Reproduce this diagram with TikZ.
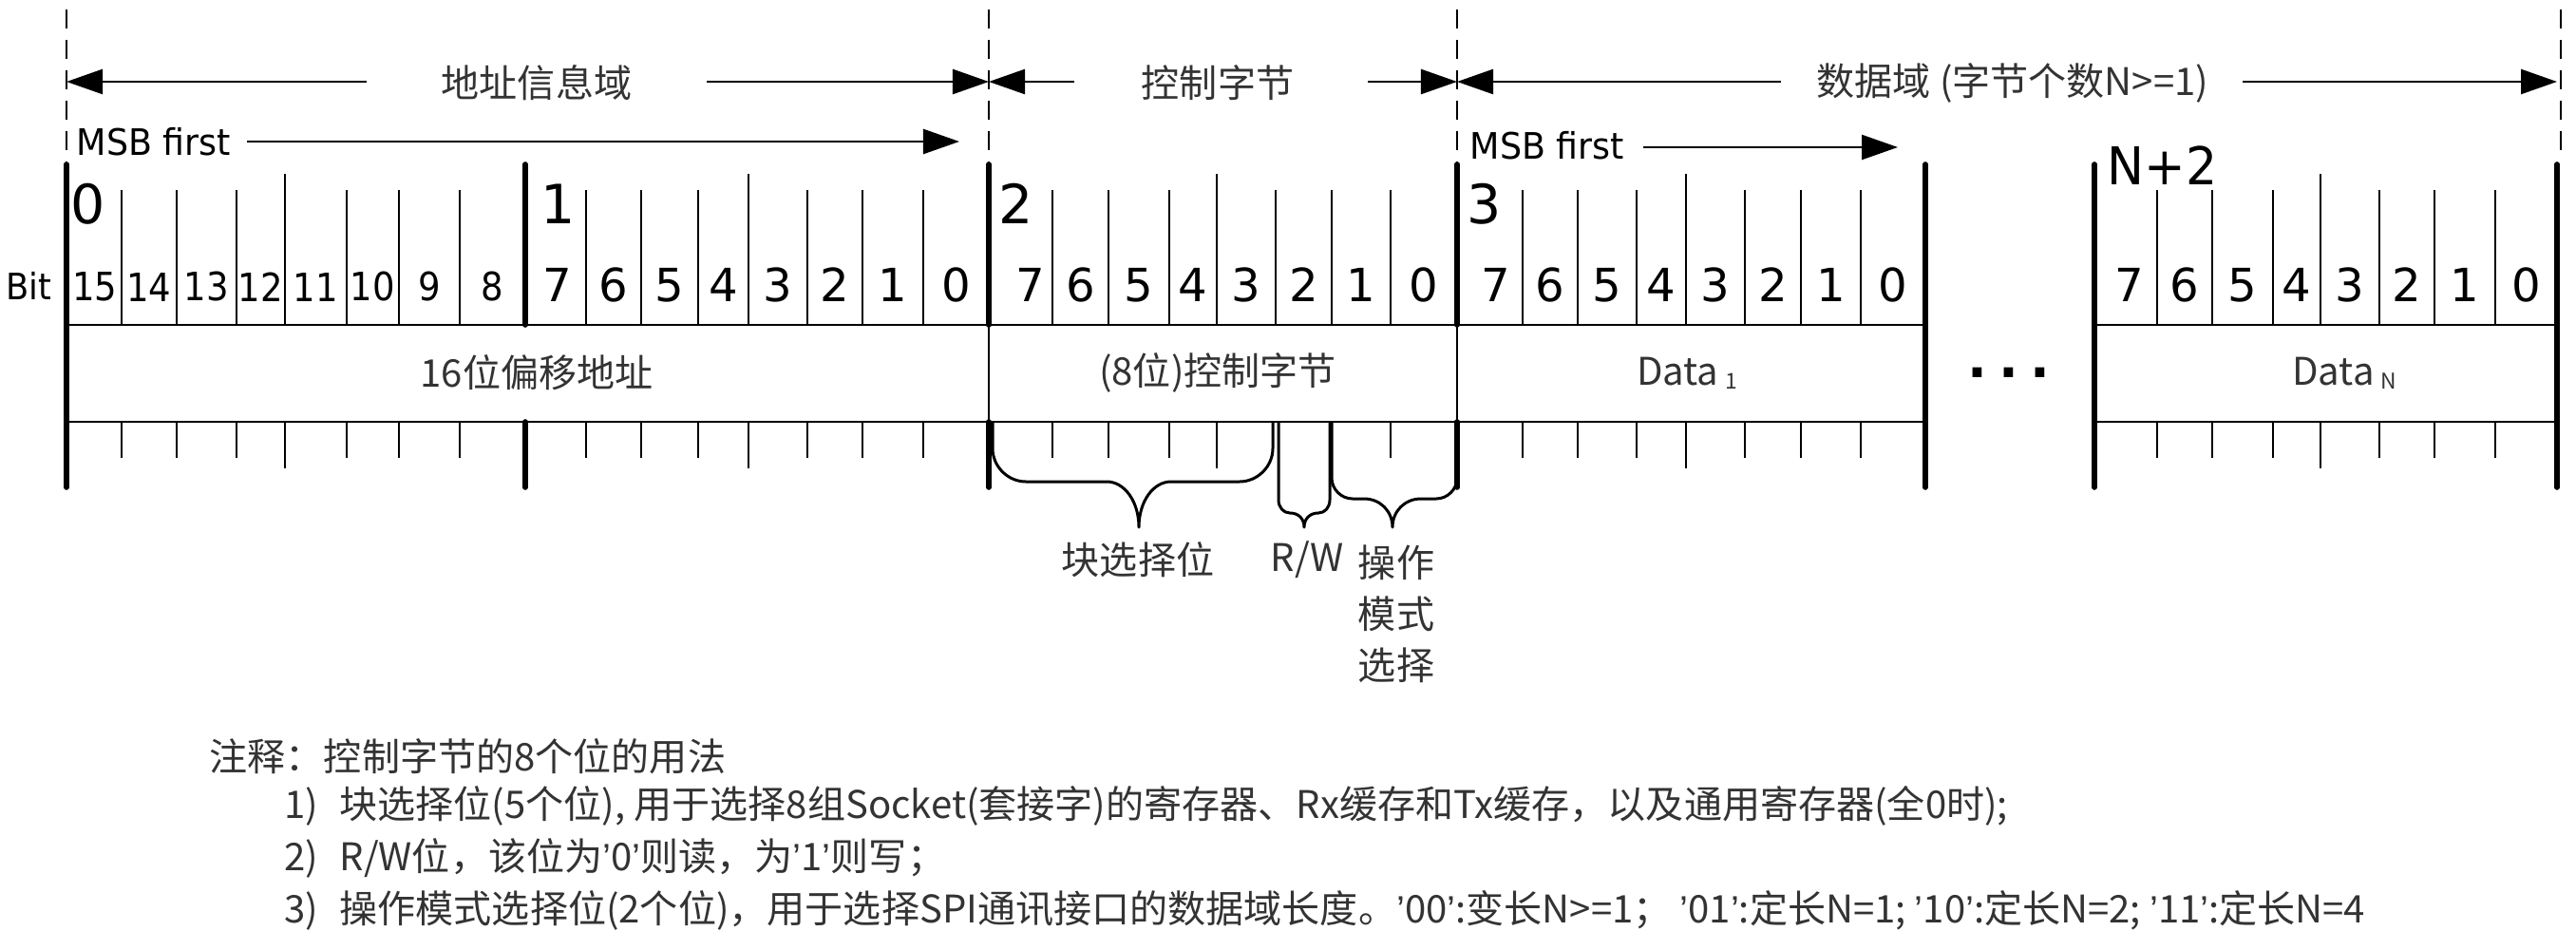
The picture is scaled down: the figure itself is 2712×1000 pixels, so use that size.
\documentclass[tikz,border=0pt]{standalone}
\usepackage{fontspec}
\setmainfont{Noto Sans CJK SC}
\newfontfamily\digf{DejaVu Sans}
\newfontfamily\dign[FakeStretch=0.9]{DejaVu Sans}
\newfontfamily\msbf[FakeStretch=0.95]{DejaVu Sans}
\newfontfamily\bitf[FakeStretch=0.92]{DejaVu Sans}
\newfontfamily\dejavu{DejaVu Sans}
\newfontfamily\lat{Liberation Sans}
\usetikzlibrary{arrows.meta}
\definecolor{txt}{HTML}{333333}
\newcommand\q{{\lat ’}}
\tikzset{
  lbl/.style={font=\fontsize{11.4}{13}\selectfont, text=txt, inner sep=0pt},
  bitnum/.style={font=\digf\fontsize{13.7}{14}\selectfont, inner sep=0pt},
  bitnumA/.style={font=\dign\fontsize{11.7}{12}\selectfont, inner sep=0pt},
  idx/.style={font=\digf\fontsize{16.2}{17}\selectfont, inner sep=0pt, anchor=north west},
  thin/.style={line width=0.57pt},
  thk/.style={line width=1.6pt, line cap=round},
  dim/.style={line width=0.7pt, -{Triangle[length=0.38cm,width=0.26cm]}},
  dsh/.style={line width=0.57pt, dash pattern=on 0.2cm off 0.12cm},
  brc/.style={line width=0.85pt, line join=round},
  note/.style={font=\fontsize{11.4}{13}\selectfont, text=txt, inner sep=0pt, anchor=west},
}
\begin{document}
\begin{tikzpicture}[x=0.01cm,y=-0.01cm]
\useasboundingbox (0,0) rectangle (2712,1000);

% dashed section separators
\foreach \x in {70,1041,1534} \draw[dsh] (\x,10) -- (\x,173);
\draw[dsh] (2696,10) -- (2696,170);

% section dimension arrows
\coordinate (s0) at (70,86);
\coordinate (s1) at (1041,86);
\coordinate (s2) at (1534,86);
\coordinate (s3) at (2692,86);
\coordinate (a1) at (386,86);  \coordinate (a2) at (744,86);
\coordinate (c1) at (1131,86); \coordinate (c2) at (1440,86);
\coordinate (e1) at (1875,86); \coordinate (e2) at (2361,86);
\draw[dim] (a1) -- (s0); \draw[dim] (a2) -- (s1);
\draw[dim] (c1) -- (s1); \draw[dim] (c2) -- (s2);
\draw[dim] (e1) -- (s2); \draw[dim] (e2) -- (s3);
\node[lbl] (laddr) at (565,87) {地址信息域};
\node[lbl] (lctrl) at (1282,87) {控制字节};
\node[lbl] (ldata) at (2119,87) {数据域 (字节个数N>=1)};

% MSB first
\node[font=\msbf\fontsize{10.9}{12}\selectfont, inner sep=0pt, anchor=base west] (msb1) at (80,163) {MSB first};
\node[font=\msbf\fontsize{10.9}{12}\selectfont, inner sep=0pt, anchor=base west] (msb2) at (1547,167) {MSB first};
\coordinate (m1a) at (260,149); \coordinate (m1b) at (1010,149);
\coordinate (m2a) at (1730,155); \coordinate (m2b) at (1998,155);
\draw[dim] (m1a) -- (m1b);
\draw[dim] (m2a) -- (m2b);

% byte indices
\node[idx] (i0) at (74,193) {0};
\node[idx] (i1) at (569,193) {1};
\node[idx] (i2) at (1051,193) {2};
\node[idx] (i3) at (1544,193) {3};
\node[font=\msbf\fontsize{15.6}{17}\selectfont, inner sep=0pt, anchor=north west] (iN) at (2218,153) {N+2};

% Bit label
\node[font=\bitf\fontsize{10.9}{12}\selectfont, inner sep=0pt] (bit) at (30,301) {Bit};

% horizontal box lines
\draw[thin] (70,342) -- (2027,342);
\draw[thin] (70,444) -- (2027,444);
\draw[thin] (2205,342) -- (2692,342);
\draw[thin] (2205,444) -- (2692,444);

% short ticks
\foreach \x in {128,186,249,365,420,484,617,675,735,850,908,972,1108,1167,1231,1343,1402,1464,1603,1661,1723,1837,1896,1959,2271,2329,2393,2505,2563,2627}
  \draw[thin] (\x,200) -- (\x,342);
\foreach \x in {128,186,249,365,420,484,617,675,735,850,908,972,1108,1167,1231,1464,1603,1661,1723,1837,1896,1959,2271,2329,2393,2505,2563,2627}
  \draw[thin] (\x,444) -- (\x,482);
% nibble ticks
\foreach \x in {300,788,1281,1775,2443} {
  \draw[thin] (\x,183) -- (\x,342);
  \draw[thin] (\x,444) -- (\x,493);
}
% thin separators inside box row
\draw[thin] (1041,342) -- (1041,444);
\draw[thin] (1534,342) -- (1534,444);

% thick byte boundaries
\foreach \x in {70,2027,2205,2692} \draw[thk] (\x,173) -- (\x,513);
\foreach \x in {553,1041,1534} {
  \draw[thk] (\x,173) -- (\x,342);
  \draw[thk] (\x,444) -- (\x,513);
}

% bit numbers
\foreach \a/\b/\t in {72/128/15,128/186/14,186/249/13,249/300/12,300/365/11,365/420/10,420/484/9,484/553/8}
  \node[bitnumA] (b\a) at ({(\a+\b)/2},302) {\t};
\foreach \a/\b/\t in {557/617/7,617/675/6,675/735/5,735/788/4,788/850/3,850/908/2,908/972/1,972/1041/0,
  1062/1108/7,1108/1167/6,1167/1231/5,1231/1281/4,1281/1343/3,1343/1402/2,1402/1464/1,1464/1534/0,
  1546/1603/7,1603/1661/6,1661/1723/5,1723/1775/4,1775/1837/3,1837/1896/2,1896/1959/1,1959/2027/0,
  2212/2271/7,2271/2329/6,2329/2393/5,2393/2443/4,2443/2505/3,2505/2563/2,2563/2627/1,2627/2692/0}
  \node[bitnum] (b\a) at ({(\a+\b)/2},300) {\t};

% box contents
\node[lbl] (addr) at (565,392) {16位偏移地址};
\node[lbl] (ctrl) at (1282,392) {(8位)控制字节};
\node[lbl, anchor=base] (data1) at (1776,405) {Data\,\raisebox{-0.12em}{\fontsize{6.5}{7}\selectfont 1}};
\node[lbl, anchor=base] (dataN) at (2468,405) {Data\,\raisebox{-0.12em}{\fontsize{6.5}{7}\selectfont N}};
\node[font=\dejavu\bfseries\fontsize{15.6}{16}\selectfont, inner sep=0pt, anchor=base] (dots) at (2115,397) {.\hspace{0.12cm}.\hspace{0.12cm}.};

% braces
\draw[brc] (1045,445) -- (1045,472) .. controls (1045,491) and (1061,507) .. (1080,507) -- (1165,507)
  .. controls (1184,507) and (1199,528) .. (1199,555) .. controls (1199,528) and (1214,507) .. (1233,507)
  -- (1305,507) .. controls (1324,507) and (1340,491) .. (1340,472) -- (1340,445);
\draw[brc] (1346,445) -- (1346,526) .. controls (1346,534) and (1351,540) .. (1358,540)
  .. controls (1367,540) and (1373,546) .. (1373,555) .. controls (1373,546) and (1379,540) .. (1388,540)
  .. controls (1395,540) and (1400,534) .. (1400,526) -- (1400,445);
\draw[brc] (1402,445) -- (1402,503) .. controls (1402,515) and (1412,525) .. (1424,525) -- (1436,525)
  .. controls (1453,525) and (1466,538) .. (1466,555) .. controls (1466,538) and (1479,525) .. (1496,525)
  -- (1512,525) .. controls (1524,525) and (1534,515) .. (1534,503) -- (1534,445);

\node[lbl] (kuai) at (1198,589) {块选择位};
\node[lbl] (rw) at (1376,589) {R/W};
\node[lbl, align=center, font=\fontsize{11.4}{15.4}\selectfont] (op) at (1470,646) {操作\\模式\\选择};

% notes
\node[note] (n0) at (220,796) {注释：控制字节的8个位的用法};
\node[note] (n1) at (299,848) {1)\hspace{0.55em}块选择位(5个位), 用于选择8组Socket(套接字)的寄存器、Rx缓存和Tx缓存，以及通用寄存器(全0时);};
\node[note] (n2) at (299,903) {2)\hspace{0.55em}R/W位，该位为\q0\q 则读，为\q1\q 则写；};
\node[note] (n3) at (299,958) {3)\hspace{0.55em}操作模式选择位(2个位)，用于选择SPI通讯接口的数据域长度。\q00\q:变长N>=1； \q01\q:定长N=1; \q10\q:定长N=2; \q11\q:定长N=4};
\end{tikzpicture}
\end{document}
